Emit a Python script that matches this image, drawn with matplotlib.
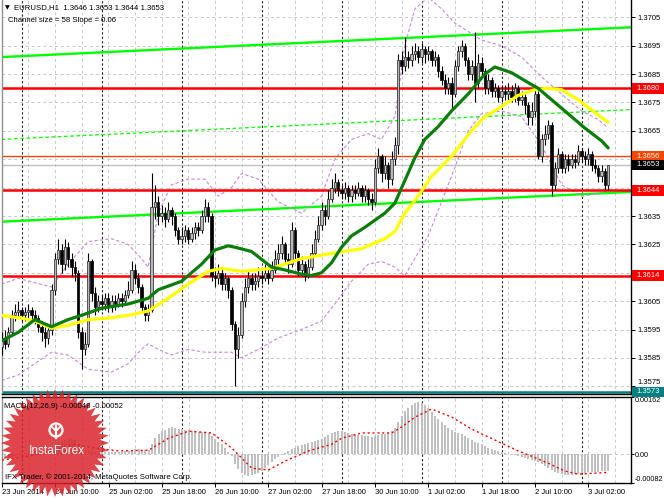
import matplotlib
matplotlib.use("Agg")
import matplotlib.pyplot as plt
import numpy as np
from matplotlib.patches import Polygon, Rectangle, Circle

# ---------------- data ----------------
first_open = 1.3589
close = [1.3592,1.3590,1.3594,1.3600,1.3601,1.3602,1.3600,1.3601,1.3602,1.3600,
 1.3599,1.3596,1.3594,1.3592,1.3595,1.3609,1.3620,1.3623,1.3618,1.3624,
 1.3620,1.3617,1.3615,1.3594,1.3588,1.3590,1.3619,1.3608,1.3603,1.3605,
 1.3604,1.3606,1.3603,1.3605,1.3604,1.3606,1.3605,1.3607,1.3609,1.3616,
 1.3613,1.3610,1.3603,1.3600,1.3602,1.3638,1.3640,1.3635,1.3636,1.3634,
 1.3637,1.3635,1.3630,1.3627,1.3628,1.3630,1.3627,1.3629,1.3631,1.3630,
 1.3635,1.3638,1.3635,1.3614,1.3613,1.3615,1.3611,1.3613,1.3609,1.3597,
 1.3588,1.3593,1.3605,1.3610,1.3613,1.3611,1.3612,1.3614,1.3613,1.3615,
 1.3613,1.3616,1.3620,1.3622,1.3625,1.3620,1.3618,1.3630,1.3622,1.3616,
 1.3618,1.3614,1.3617,1.3622,1.3627,1.3632,1.3637,1.3635,1.3641,1.3645,
 1.3647,1.3644,1.3643,1.3645,1.3642,1.3644,1.3643,1.3645,1.3642,1.3644,
 1.3641,1.3640,1.3652,1.3656,1.3650,1.3653,1.3648,1.3655,1.3660,1.3690,
 1.3688,1.3691,1.3690,1.3692,1.3693,1.3691,1.3694,1.3692,1.3693,1.3690,
 1.3691,1.3686,1.3683,1.3680,1.3682,1.3678,1.3688,1.3693,1.3695,1.3690,
 1.3685,1.3688,1.3682,1.3689,1.3686,1.3680,1.3683,1.3679,1.3680,1.3677,
 1.3679,1.3678,1.3679,1.3677,1.3680,1.3676,1.3677,1.3674,1.3670,1.3672,
 1.3678,1.3656,1.3662,1.3664,1.3667,1.3646,1.3652,1.3657,1.3652,1.3655,
 1.3653,1.3655,1.3654,1.3658,1.3656,1.3655,1.3657,1.3653,1.3652,1.3649,
 1.3651,1.3646,1.3653]
high = [1.3594,1.3595,1.3596,1.3602,1.3604,1.3605,1.3603,1.3603,1.3604,1.3603,
 1.3602,1.3600,1.3598,1.3596,1.3597,1.3611,1.3622,1.3627,1.3625,1.3627,
 1.3626,1.3622,1.3619,1.3616,1.3596,1.3594,1.3622,1.3620,1.3610,1.3607,
 1.3607,1.3608,1.3608,1.3607,1.3607,1.3608,1.3608,1.3609,1.3612,1.3619,
 1.3618,1.3615,1.3611,1.3604,1.3604,1.3650,1.3646,1.3642,1.3639,1.3638,
 1.3640,1.3638,1.3636,1.3631,1.3631,1.3632,1.3631,1.3631,1.3633,1.3633,
 1.3637,1.3641,1.3640,1.3636,1.3617,1.3618,1.3617,1.3615,1.3614,1.3610,
 1.3598,1.3596,1.3608,1.3613,1.3616,1.3615,1.3615,1.3617,1.3616,1.3618,
 1.3617,1.3619,1.3623,1.3625,1.3628,1.3626,1.3622,1.3633,1.3631,1.3623,
 1.3621,1.3619,1.3620,1.3625,1.3630,1.3635,1.3640,1.3639,1.3644,1.3648,
 1.3650,1.3648,1.3646,1.3647,1.3646,1.3646,1.3646,1.3647,1.3646,1.3646,
 1.3645,1.3643,1.3655,1.3659,1.3657,1.3656,1.3654,1.3658,1.3663,1.3692,
 1.3693,1.3698,1.3693,1.3695,1.3696,1.3695,1.3696,1.3695,1.3695,1.3694,
 1.3693,1.3692,1.3688,1.3685,1.3684,1.3684,1.3690,1.3695,1.3697,1.3696,
 1.3691,1.3690,1.3700,1.3692,1.3691,1.3687,1.3685,1.3684,1.3682,1.3681,
 1.3681,1.3681,1.3682,1.3681,1.3682,1.3681,1.3679,1.3678,1.3675,1.3675,
 1.3680,1.3679,1.3664,1.3667,1.3669,1.3668,1.3654,1.3659,1.3658,1.3657,
 1.3657,1.3657,1.3657,1.3660,1.3659,1.3658,1.3659,1.3658,1.3655,1.3653,
 1.3653,1.3652,1.3653]
low = [1.3586,1.3588,1.3589,1.3593,1.3598,1.3599,1.3598,1.3598,1.3599,1.3598,
 1.3597,1.3594,1.3591,1.3589,1.3590,1.3593,1.3607,1.3618,1.3615,1.3616,
 1.3617,1.3614,1.3612,1.3592,1.3581,1.3586,1.3589,1.3605,1.3600,1.3601,
 1.3602,1.3602,1.3601,1.3601,1.3602,1.3603,1.3603,1.3604,1.3606,1.3608,
 1.3611,1.3608,1.3601,1.3598,1.3598,1.3601,1.3634,1.3632,1.3633,1.3631,
 1.3633,1.3632,1.3628,1.3625,1.3625,1.3626,1.3625,1.3626,1.3627,1.3628,
 1.3629,1.3633,1.3633,1.3612,1.3610,1.3611,1.3609,1.3609,1.3606,1.3595,
 1.3575,1.3585,1.3592,1.3603,1.3608,1.3609,1.3609,1.3610,1.3611,1.3612,
 1.3611,1.3612,1.3615,1.3618,1.3620,1.3618,1.3615,1.3617,1.3620,1.3614,
 1.3614,1.3612,1.3613,1.3616,1.3621,1.3626,1.3630,1.3632,1.3634,1.3640,
 1.3643,1.3642,1.3641,1.3641,1.3640,1.3640,1.3641,1.3642,1.3640,1.3640,
 1.3639,1.3637,1.3639,1.3650,1.3647,1.3648,1.3645,1.3646,1.3653,1.3657,
 1.3685,1.3686,1.3687,1.3688,1.3690,1.3689,1.3689,1.3689,1.3690,1.3688,
 1.3688,1.3684,1.3681,1.3678,1.3678,1.3673,1.3677,1.3686,1.3691,1.3688,
 1.3683,1.3683,1.3675,1.3680,1.3684,1.3678,1.3678,1.3677,1.3677,1.3675,
 1.3675,1.3676,1.3676,1.3675,1.3675,1.3674,1.3674,1.3671,1.3667,1.3667,
 1.3670,1.3655,1.3654,1.3660,1.3662,1.3642,1.3644,1.3650,1.3650,1.3650,
 1.3651,1.3652,1.3652,1.3653,1.3654,1.3653,1.3653,1.3651,1.3650,1.3647,
 1.3647,1.3644,1.3644]

# moving averages (sampled along the curves)
ma_fast_bars = [0,5,10,15,20,24,30,38,44,47,54,60,64,68,70,75,81,85,90,93,96,99,102,105,109,
                115,118,121,124,127,131,135,140,145,148,153,158,161,165,170,175,180,182]
ma_fast = [1.3591,1.3594,1.35985,1.3596,1.35985,1.3600,1.36025,1.3604,1.3606,1.3609,1.3612,
           1.3618,1.3623,1.36245,1.3624,1.36225,1.3617,1.3616,1.36145,1.3614,1.3615,1.36185,
           1.3624,1.3628,1.3631,1.3636,1.36395,1.36475,1.36555,1.3662,1.36665,1.3672,1.3678,
           1.3685,1.36875,1.36855,1.3682,1.3680,1.3676,1.3671,1.3666,1.36615,1.3659]
ma_slow_bars = [0,6,10,15,20,26,32,38,44,50,56,62,66,72,81,90,100,108,115,118,121,125,129,
                135,141,145,150,155,160,164,168,173,178,182]
ma_slow = [1.3600,1.3599,1.3598,1.35955,1.35965,1.35985,1.3599,1.3600,1.36015,1.3606,1.3611,
           1.36155,1.36165,1.36155,1.36165,1.3620,1.3622,1.36235,1.3627,1.36295,1.3636,1.3642,
           1.3649,1.3656,1.3665,1.3670,1.36735,1.36775,1.36795,1.3680,1.36795,1.3676,1.36715,1.3668]

# bands (violet dotted)
band_bars = [0,5,15,20,26,33,38,42,44,47,51,56,61,65,69,72,77,83,90,96,100,105,110,114,118,
             121,124,128,132,136,140,144,150,156,162,168,174,179,182]
band_upper = [1.3611,1.3613,1.3610,1.3618,1.3626,1.3627,1.3625,1.3620,1.3617,1.3636,1.3646,
              1.3648,1.3648,1.3642,1.3645,1.3650,1.3648,1.3640,1.3636,1.3642,1.3655,1.3662,
              1.3664,1.3662,1.3670,1.3695,1.3708,1.3712,1.3708,1.3703,1.3700,1.3697,1.3695,
              1.3691,1.3684,1.3678,1.3672,1.3669,1.3666]
band_lower = [1.3577,1.3579,1.3587,1.3586,1.3581,1.3580,1.3583,1.3588,1.3590,1.3588,1.3586,
              1.3588,1.3587,1.3587,1.3587,1.3585,1.3588,1.3592,1.3595,1.3598,1.3604,1.3612,
              1.3618,1.3619,1.3617,1.3614,1.3620,1.3628,1.3640,1.3652,1.3665,1.3671,1.3672,
              1.3670,1.3660,1.3646,1.3642,1.3643,1.3644]

# regression channel
channel_bars = [0, 189]
channel_mid = [1.36620, 1.36725]
channel_half = 0.0029

# horizontal levels
level_values = [1.3680, 1.3656, 1.3653, 1.3644, 1.3614, 1.3573]
level_labels = ["1.3680", "1.3656", "1.3653", "1.3644", "1.3614", "1.3573"]
level_colors = ["#ff0000", "#ff4500", "#c0c0c0", "#ff0000", "#ff0000", "#008080"]
level_box = ["#ff0000", "#ff4500", "#000000", "#ff0000", "#ff0000", "#008080"]
level_width = [1.8, 1.0, 1.0, 1.8, 1.8, 1.8]

price_ticks = [1.3575,1.3585,1.3595,1.3605,1.3615,1.3625,1.3635,1.3645,1.3655,
               1.3665,1.3675,1.3685,1.3695,1.3705]
hidden_ticks = [1.3615, 1.3645, 1.3655]   # covered by the level boxes

# MACD
macd_hist = [-0.00014,-0.00014,-0.00011,-0.00009,-0.00006,-0.00003,0.0,0.00003,0.00006,0.00009,
 0.00009,0.00009,0.00006,0.00006,0.00006,0.00011,0.0002,0.00028,0.00034,0.0004,
 0.00043,0.00043,0.0004,0.00028,0.00014,0.00003,0.00009,0.00009,0.00006,0.00006,
 0.00006,0.00006,0.00006,0.00006,0.00006,0.00006,0.00006,0.00009,0.00009,0.00011,
 0.00014,0.00014,0.00011,0.00011,0.00011,0.00028,0.00045,0.00057,0.00065,0.00068,
 0.00074,0.00077,0.00074,0.00071,0.00071,0.00068,0.00068,0.00065,0.00065,0.00062,
 0.00062,0.00062,0.0006,0.00051,0.00043,0.00034,0.00028,0.00017,0.00006,-0.00006,
 -0.00028,-0.00043,-0.00054,-0.0006,-0.00062,-0.0006,-0.00057,-0.00054,-0.00048,-0.0004,
 -0.00031,-0.00023,-0.00014,-0.00009,-0.00003,0.00003,0.00009,0.00014,0.00017,0.00023,
 0.00026,0.00028,0.00031,0.00034,0.00037,0.0004,0.00043,0.00048,0.00054,0.0006,
 0.00062,0.00065,0.00065,0.00062,0.0006,0.00057,0.00057,0.00054,0.00054,0.00051,
 0.00051,0.00048,0.00051,0.00054,0.00057,0.00057,0.0006,0.00065,0.00074,0.00091,
 0.00108,0.00122,0.00131,0.00139,0.00145,0.00148,0.00145,0.00139,0.00131,0.00119,
 0.00108,0.00099,0.00091,0.00082,0.00074,0.00068,0.00062,0.0006,0.00057,0.00051,
 0.00045,0.0004,0.00034,0.00031,0.00028,0.00023,0.00017,0.00014,0.00011,0.00009,
 0.00006,0.00003,0.0,0.0,-0.00003,-0.00006,-0.00009,-0.00011,-0.00014,-0.00017,
 -0.0002,-0.00023,-0.00028,-0.00034,-0.0004,-0.00045,-0.00051,-0.00054,-0.00057,-0.0006,
 -0.0006,-0.0006,-0.00057,-0.00057,-0.00054,-0.00054,-0.00051,-0.00051,-0.00051,-0.00051,
 -0.00048,-0.00048,-0.00048]
signal_bars = [0,8,15,22,28,35,44,50,56,63,69,75,80,85,92,99,102,108,112,117,120,124,129,
               135,141,150,155,159,164,169,173,178,182]
signal_vals = [-0.00017,-0.00006,0.00009,0.00028,0.00017,0.00009,0.00011,0.00045,0.00065,0.0006,
               0.00017,-0.0004,-0.00045,-0.0002,0.00009,0.00028,0.00045,0.0006,0.0006,0.0006,
               0.00077,0.00105,0.00128,0.00105,0.00071,0.00031,0.00009,-0.00006,-0.00026,
               -0.00048,-0.00057,-0.00054,-0.00052]
macd_ticks = [-0.00082, 0.0, 0.00162]
macd_tick_labels = ["-0.00082", "0.00", "0.00162"]

date_tick_bars = [0,16,32,48,64,80,96,112,128,144,160,176]
date_labels = ["23 Jun 2014","24 Jun 10:00","25 Jun 02:00","25 Jun 18:00","26 Jun 10:00",
               "27 Jun 02:00","27 Jun 18:00","30 Jun 10:00","1 Jul 02:00","1 Jul 18:00",
               "2 Jul 10:00","3 Jul 02:00"]
day_start_bars = [6,30,54,78,102,126,150,174]
grid_bars = list(range(0, 189, 8))

# ---------------- figure ----------------
W, H = 664, 498
FONT = ["Liberation Sans", "DejaVu Sans"]
plt.rcParams['font.family'] = FONT
fig = plt.figure(figsize=(W/100, H/100), dpi=100)
fig.patch.set_facecolor("white")

def rect(x0, y0, x1, y1):
    return [x0/W, 1 - y1/H, (x1-x0)/W, (y1-y0)/H]

ax = fig.add_axes(rect(2, 0, 631, 394))
ax2 = fig.add_axes(rect(2, 397, 631, 483))
XL = (0.15, 188.85)
for a in (ax, ax2):
    a.set_xlim(*XL)
    a.set_facecolor("white")
ax.set_ylim(1.357228, 1.371111)
ax2.set_ylim(-0.00082, 0.00162)

gridc = "#c8c8c8"
dash = (0, (3, 3))
for a in (ax, ax2):
    a.vlines(grid_bars, 0, 1, transform=a.get_xaxis_transform(), colors=gridc,
             linestyles=dash, lw=0.7, zorder=0)
    a.vlines(day_start_bars, 0, 1, transform=a.get_xaxis_transform(), colors="#202020",
             linestyles=(0, (2, 2)), lw=0.8, zorder=0.5)
ax.hlines(price_ticks, 0, 1, transform=ax.get_yaxis_transform(), colors=gridc,
          linestyles=dash, lw=0.7, zorder=0)
ax2.hlines([0.0], 0, 1, transform=ax2.get_yaxis_transform(), colors=gridc,
           linestyles=dash, lw=0.7, zorder=0)

# regression channel
cb = np.array(channel_bars, dtype=float)
cm = np.array(channel_mid)
ax.plot(cb, cm + channel_half, color="#00ff00", lw=1.7, zorder=2)
ax.plot(cb, cm - channel_half, color="#00ff00", lw=1.7, zorder=2)
ax.plot(cb, cm, color="#00ff00", lw=0.9, ls=(0, (3, 2)), zorder=2)

# bands
ax.plot(band_bars, band_upper, color="#c988dd", lw=0.8, ls=(0, (3, 2)), zorder=2)
ax.plot(band_bars, band_lower, color="#c988dd", lw=0.8, ls=(0, (3, 2)), zorder=2)

# levels
for v, c, w in zip(level_values, level_colors, level_width):
    ax.axhline(v, color=c, lw=w, zorder=2.5)

# candles
n = len(close)
idx = np.arange(n)
opn = np.array([first_open] + close[:-1])
cls = np.array(close)
ax.vlines(idx, low, high, colors="#000000", lw=0.8, zorder=3)
bot = np.minimum(opn, cls)
hgt = np.maximum(np.abs(cls - opn), 0.000025)
up = cls >= opn
ax.bar(idx[up], hgt[up], bottom=bot[up], width=0.62, color="#b8b8b8",
       edgecolor="#202020", lw=0.5, zorder=3.2)
ax.bar(idx[~up], hgt[~up], bottom=bot[~up], width=0.62, color="#000000",
       edgecolor="#000000", lw=0.5, zorder=3.2)

# moving averages
ax.plot(ma_slow_bars, ma_slow, color="#ffff00", lw=2.3, zorder=4, solid_capstyle="round")
ax.plot(ma_fast_bars, ma_fast, color="#0a7d0a", lw=2.3, zorder=4.1, solid_capstyle="round")

# axes styling
for a in (ax, ax2):
    a.spines["left"].set_color("#909090")
    a.spines["right"].set_color("#000000")
    a.spines["bottom"].set_color("#000000")
    a.spines["top"].set_color("#000000")
    for s in a.spines.values():
        s.set_linewidth(1.0)
ax.spines["top"].set_visible(False)

ax.yaxis.tick_right()
ax.set_yticks(price_ticks)
ax.set_yticklabels(["" if p in hidden_ticks else f"{p:.4f}" for p in price_ticks])
ax.tick_params(axis="y", length=3, width=0.7, pad=2, labelsize=5.5, colors="black")
ax.get_yticklabels()[0].set_va("bottom")   # 1.3575 sits just above the 1.3573 box
ax.set_xticks([])

ytr = ax.get_yaxis_transform()
px = 1.0 / 629
bh = 10.5 / 28380
for v, lab, bc in zip(level_values, level_labels, level_box):
    ax.add_patch(Rectangle((1 + 1*px, v - bh/2), 33*px, bh, transform=ytr,
                           clip_on=False, facecolor=bc, edgecolor="none", zorder=20))
    ax.text(1 + 5*px, v, lab, transform=ytr, ha="left", va="center", fontsize=5.5,
            color="white", zorder=21, clip_on=False)

# MACD
ax2.bar(idx, macd_hist, width=0.6, color="#c0c0c0", zorder=2)
ax2.plot(signal_bars, signal_vals, color="#ff0000", lw=1.0, ls=(0, (1.5, 2)), zorder=3)
ax2.yaxis.tick_right()
ax2.set_yticks(macd_ticks)
ax2.set_yticklabels(macd_tick_labels)
ax2.tick_params(axis="y", length=2, width=0.7, pad=1, labelsize=5.2)
labs = ax2.get_yticklabels()
labs[0].set_va("bottom")
labs[2].set_va("top")
ax2.set_xticks(date_tick_bars)
ax2.set_xticklabels(date_labels, ha="left")
ax2.tick_params(axis="x", length=3, width=0.7, pad=1.5, labelsize=5.5)

# overlay texts / logo
ov = fig.add_axes([0, 0, 1, 1], zorder=10)
ov.set_xlim(0, W)
ov.set_ylim(H, 0)
ov.axis("off")
ov.patch.set_alpha(0)

ov.text(5, 8, "\u25BC", fontsize=4.5, va="center", ha="left", family=["DejaVu Sans"])
ov.text(14, 8, "EURUSD,H1  1.3646 1.3653 1.3644 1.3653", fontsize=5.6, va="center", ha="left")
ov.text(8, 20, "Channel size = 58 Slope = 0.06", fontsize=5.6, va="center", ha="left")
ov.text(4, 406, "MACD(12,26,9) -0.00048 -0.00052", fontsize=5.6, va="center", ha="left")

# InstaForex badge
k = 44
ang = np.linspace(0, 2*np.pi, 2*k, endpoint=False) + np.pi/2
rad = np.where(np.arange(2*k) % 2 == 0, 54, 45)
cx, cy = 55, 443
verts = np.column_stack([cx + rad*np.cos(ang), cy - rad*np.sin(ang)])
ov.add_patch(Polygon(verts, closed=True, facecolor="#d9252b", edgecolor="none", alpha=0.85, zorder=1))
ov.add_patch(Circle((56, 430), 6.5, facecolor="none", edgecolor="white", lw=1.6, zorder=2))
ov.plot([56, 56], [426, 438], color="white", lw=1.6, zorder=2)
ov.plot([52, 56, 60], [427, 431, 427], color="white", lw=1.3, zorder=2)
ov.text(57, 451, "InstaForex", fontsize=8.6, color="white", ha="center", va="center", zorder=3)
ov.text(5, 477, "IFX Trader, \u00a9 2001-2014, MetaQuotes Software Corp.", fontsize=5.6,
        va="center", ha="left", zorder=4)

fig.savefig("out.png", dpi=100)
